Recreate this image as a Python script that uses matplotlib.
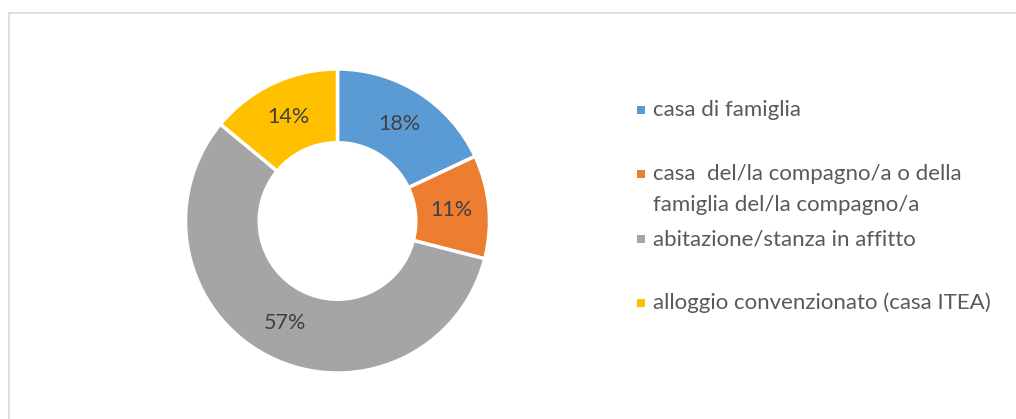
import matplotlib.pyplot as plt
from matplotlib.patches import Rectangle

# dati del grafico
categorie = ['casa di famiglia',
             'casa  del/la compagno/a o della\nfamiglia del/la compagno/a',
             'abitazione/stanza in affitto',
             'alloggio convenzionato (casa ITEA)']
valori = [18, 11, 57, 14]
colori = ['#5B9BD5', '#ED7D31', '#A5A5A5', '#FFC000']

W, H = 1016, 419
plt.rcParams['font.family'] = ['Lato', 'DejaVu Sans']

fig = plt.figure(figsize=(W / 100, H / 100), dpi=100)

# cornice grigia chiara
fig.add_artist(Rectangle((9 / W, -0.2), 1.2, (H - 13) / H + 0.2,
                         transform=fig.transFigure, fill=False,
                         edgecolor='#D9D9D9', linewidth=1.2))

# ciambella
cx, cy, r = 337.5, H - 221, 152
ax = fig.add_axes([(cx - r) / W, (cy - r) / H, 2 * r / W, 2 * r / H])
wedges, testi, pct = ax.pie(valori, colors=colori, startangle=90, counterclock=False,
                            radius=1, autopct=lambda p: f'{p:.0f}%', pctdistance=0.755,
                            wedgeprops=dict(width=0.485, edgecolor='white', linewidth=2.5),
                            textprops=dict(color='#404040', fontsize=15.5))
ax.set_xlim(-1, 1)
ax.set_ylim(-1, 1)
ax.set_aspect('equal')
ax.axis('off')

# legenda disegnata a mano
ys = [110, 174, 239, 303]
for lab, col, y in zip(categorie, colori, ys):
    fig.add_artist(Rectangle((637 / W, (H - y - 4) / H), 8 / W, 8 / H,
                             transform=fig.transFigure, facecolor=col, edgecolor='none'))
    for k, riga in enumerate(lab.split('\n')):
        fig.text(653 / W, (H - y - 31 * k) / H, riga, ha='left', va='center',
                 fontsize=16, color='#595959')

fig.savefig('out.png', dpi=100)
